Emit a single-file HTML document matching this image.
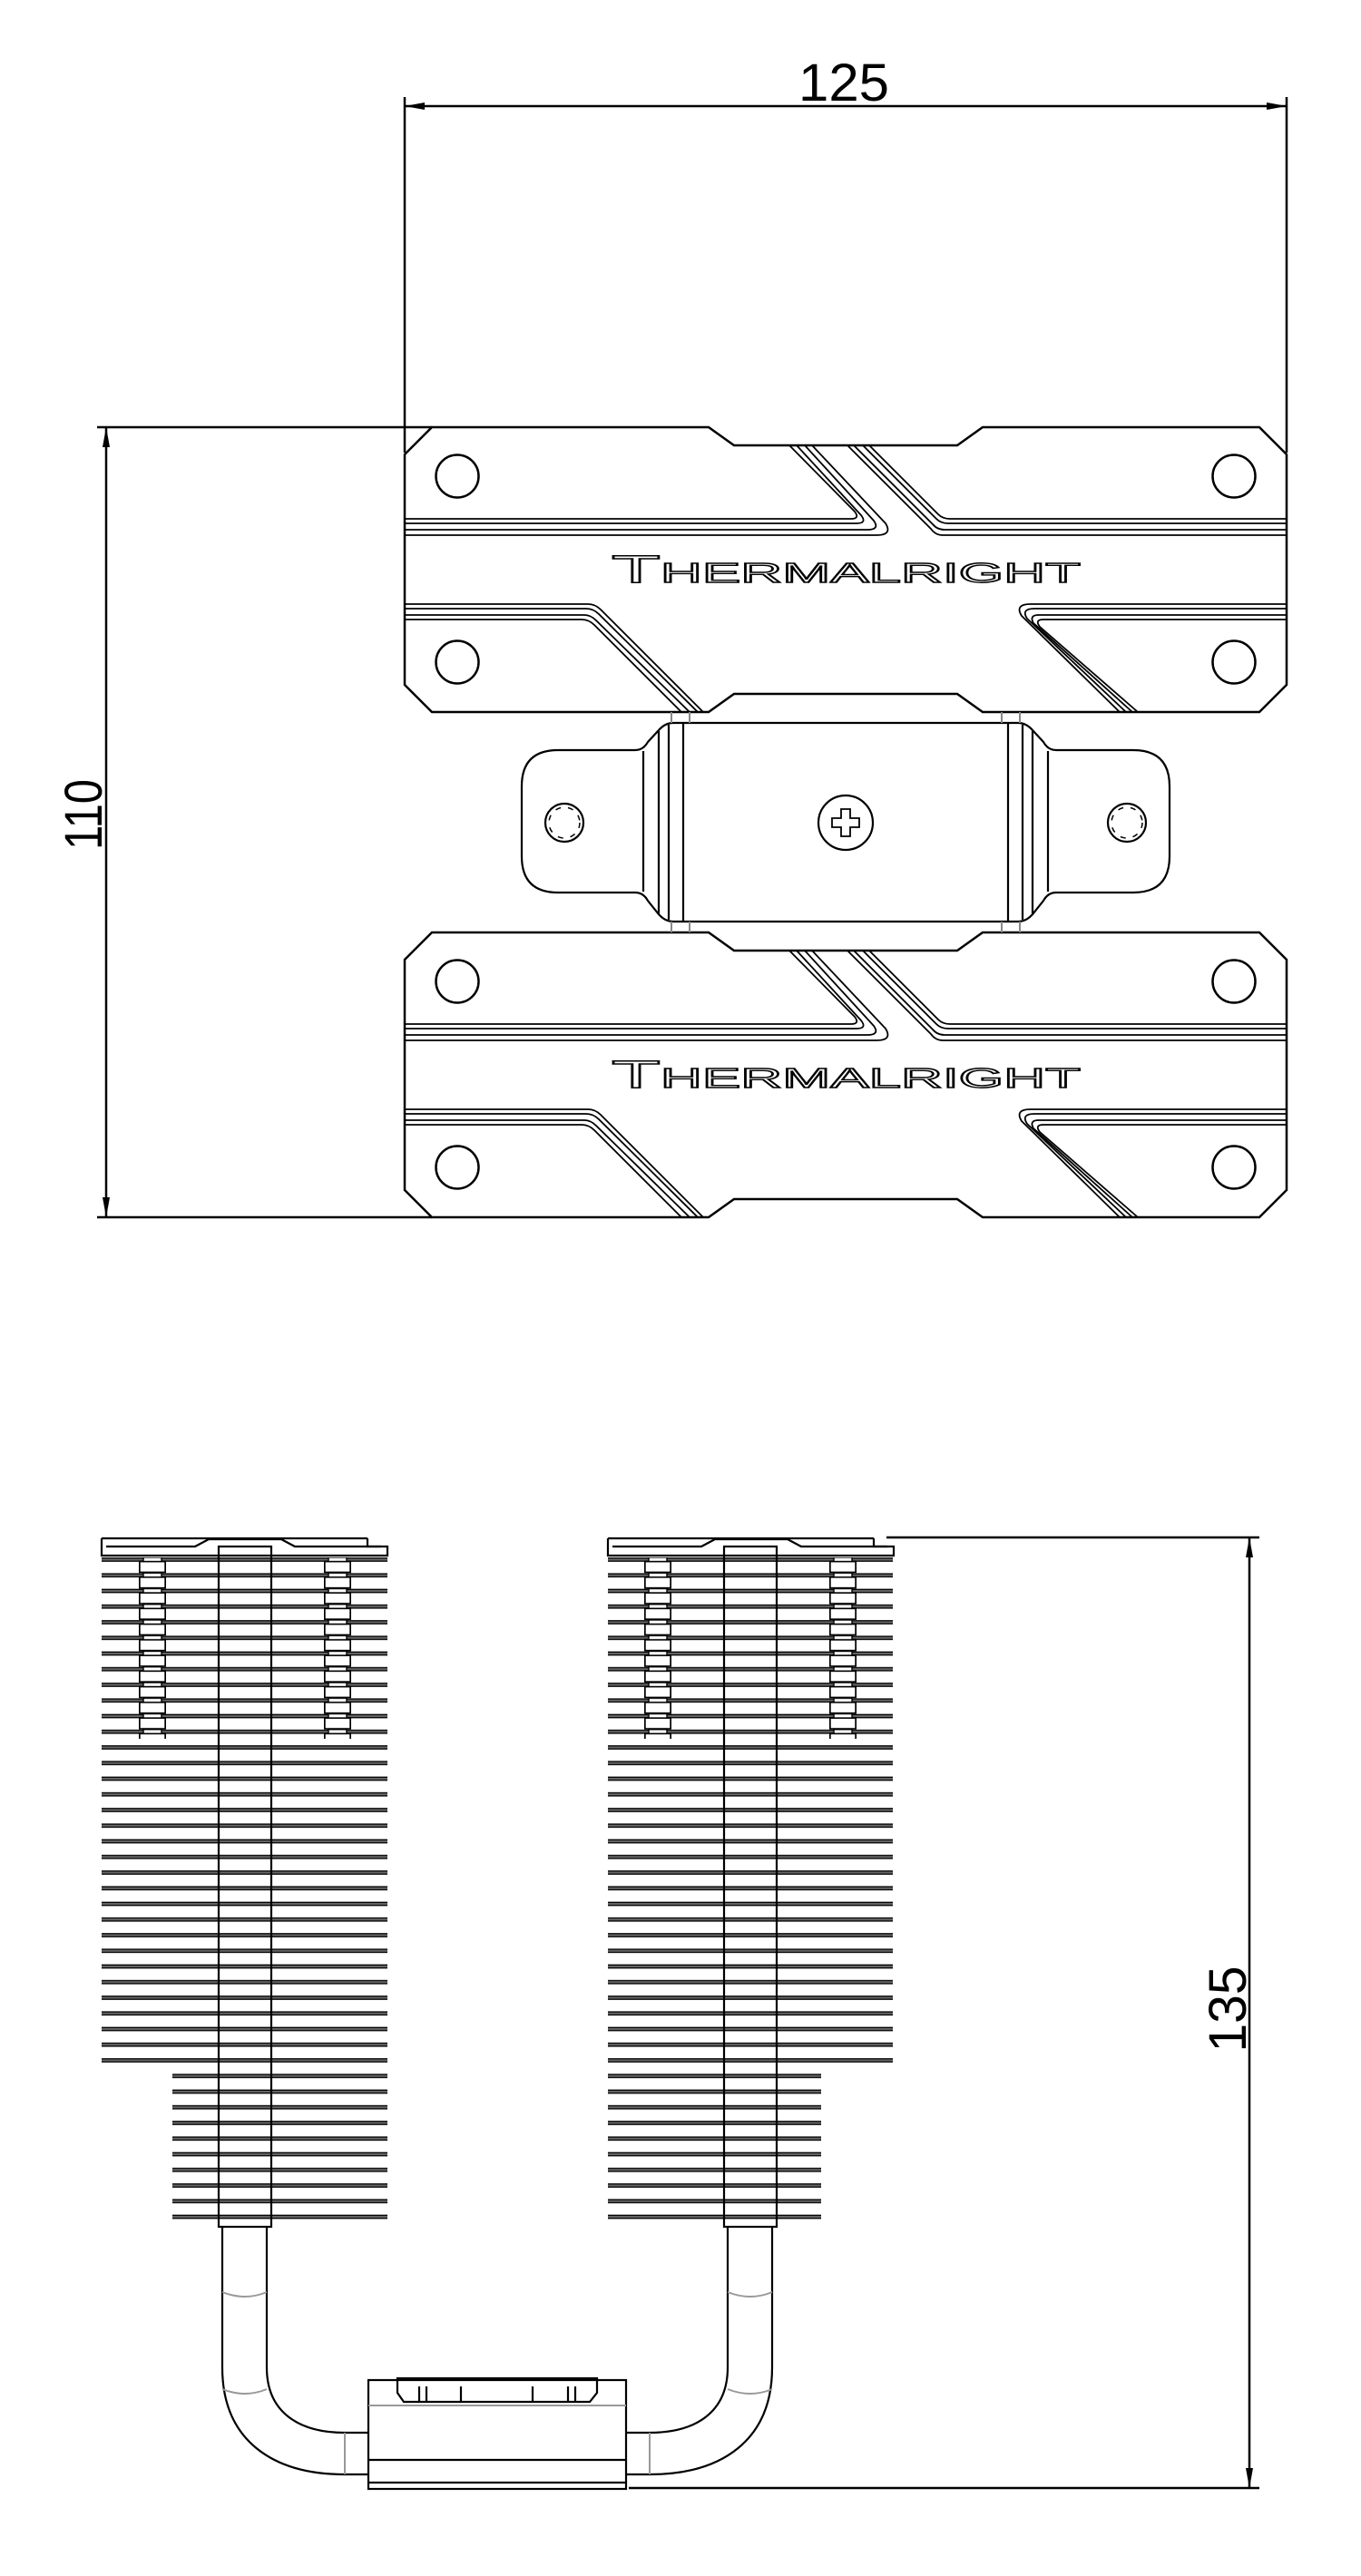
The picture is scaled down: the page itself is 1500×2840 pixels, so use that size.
<!DOCTYPE html>
<html><head><meta charset="utf-8"><style>html,body{margin:0;padding:0;background:#fff}svg{display:block}</style></head>
<body>
<svg xmlns="http://www.w3.org/2000/svg" width="1500" height="2840" viewBox="0 0 1500 2840">
<defs>
<g id="plate" fill="none" stroke="#000">
<path stroke-width="2.5" d="M0,30 L30,0 H335 L363,20 H609 L637,0 H942 L972,30 V284 L942,314 H637 L609,294 H363 L335,314 H30 L0,284 Z"/>
<g stroke-width="2.5"><circle cx="58" cy="54" r="23.5"/><circle cx="914" cy="54" r="23.5"/><circle cx="58" cy="259" r="23.5"/><circle cx="914" cy="259" r="23.5"/></g>
<g stroke-width="1.8" stroke-linejoin="round">
<path d="M0,101 H492 Q502,101 496,93 L424,20"/>
<path d="M0,106 H498 Q510,106 503,97 L432,20"/>
<path d="M0,113 H510 Q524,113 517,103 L441,20"/>
<path d="M0,119 H520 Q538,119 530,106 L449,20"/>
<path d="M0,195 H202 Q210,195 216,201 L329,314"/>
<path d="M0,200 H200 Q208,200 214,206 L323,314"/>
<path d="M0,207 H198 Q205,207 211,213 L314,314"/>
<path d="M0,212 H195 Q203,212 209,218 L305,314"/>
<path d="M512,20 L588,96 Q593,101 601,101 H972"/>
<path d="M505,20 L586,101 Q591,106 599,106 H972"/>
<path d="M495,20 L582,107 Q587,113 595,113 H972"/>
<path d="M488,20 L580,112 Q585,119 593,119 H972"/>
<path d="M972,195 H690 Q672,195 680,208 L788,314"/>
<path d="M972,200 H694 Q679,200 686,211 L795,314"/>
<path d="M972,207 H699 Q688,207 693,216 L802,314"/>
<path d="M972,212 H704 Q694,212 700,220 L808,314"/>
</g>
</g>
<pattern id="fins" patternUnits="userSpaceOnUse" x="0" y="1717" width="2000" height="17.25">
<rect x="-5" y="0.8" width="2010" height="3.4" fill="#666" stroke="#000" stroke-width="1.3"/>
</pattern>
<pattern id="pil" patternUnits="userSpaceOnUse" x="0" y="1717" width="30" height="17.25">
<rect x="0.8" y="4.5" width="28.4" height="12" fill="#fff" stroke="#000" stroke-width="1.8"/>
<rect x="5" y="0" width="20" height="4.5" fill="#fff" stroke="#000" stroke-width="1.4"/>
</pattern>
</defs>

<g stroke="#000" stroke-width="2.5" fill="none">
<line x1="446" y1="107" x2="446" y2="499"/>
<line x1="1418" y1="107" x2="1418" y2="499"/>
<line x1="446" y1="117" x2="1418" y2="117"/>
<line x1="107" y1="471" x2="476" y2="471"/>
<line x1="107" y1="1342" x2="476" y2="1342"/>
<line x1="117" y1="471" x2="117" y2="1342"/>
<line x1="977" y1="1695" x2="1388" y2="1695"/>
<line x1="693" y1="2743" x2="1388" y2="2743"/>
<line x1="1377" y1="1695" x2="1377" y2="2743"/>
</g>
<g fill="#000">
<path d="M446,117 L468,113 L468,121 Z"/><path d="M1418,117 L1396,113 L1396,121 Z"/>
<path d="M117,471 L113,493 L121,493 Z"/><path d="M117,1342 L113,1320 L121,1320 Z"/>
<path d="M1377,1695 L1373,1717 L1381,1717 Z"/><path d="M1377,2743 L1373,2721 L1381,2721 Z"/>
</g>
<g font-family="'Liberation Sans',sans-serif" font-size="58" fill="#000">
<text x="930" y="111" text-anchor="middle" textLength="100" lengthAdjust="spacingAndGlyphs">125</text>
<text transform="translate(112,898) rotate(-90)" text-anchor="middle" textLength="78" lengthAdjust="spacingAndGlyphs">110</text>
<text transform="translate(1373,2215) rotate(-90)" text-anchor="middle" textLength="95" lengthAdjust="spacingAndGlyphs">135</text>
</g>

<g transform="translate(446,471)"><use href="#plate"/>
<text x="228" y="171" fill="#fff" stroke="#000" stroke-width="1.4" font-family="'Liberation Sans',sans-serif" font-size="31" textLength="517" lengthAdjust="spacingAndGlyphs"><tspan font-size="43">T</tspan>HERMALRIGHT</text></g>
<g transform="translate(446,1028)"><use href="#plate"/>
<text x="228" y="171" fill="#fff" stroke="#000" stroke-width="1.4" font-family="'Liberation Sans',sans-serif" font-size="31" textLength="517" lengthAdjust="spacingAndGlyphs"><tspan font-size="43">T</tspan>HERMALRIGHT</text></g>

<g fill="none" stroke="#000" stroke-width="2.2">
<path fill="#fff" d="M575,867 Q575,827 615,827 H700 Q709,827 714,818 L726,805 Q733,797 742,797 H1122 Q1131,797 1138,805 L1150,818 Q1155,827 1164,827 H1249 Q1289,827 1289,867 V944 Q1289,984 1249,984 H1164 Q1155,984 1150,993 L1138,1008 Q1131,1016 1122,1016 H742 Q733,1016 726,1008 L714,993 Q709,984 700,984 H615 Q575,984 575,944 Z"/>
<line x1="709" y1="828" x2="709" y2="983"/><line x1="726" y1="806" x2="726" y2="1007"/><line x1="737" y1="799" x2="737" y2="1014"/><line x1="753" y1="797" x2="753" y2="1016"/>
<line x1="1155" y1="828" x2="1155" y2="983"/><line x1="1138" y1="806" x2="1138" y2="1007"/><line x1="1127" y1="799" x2="1127" y2="1014"/><line x1="1111" y1="797" x2="1111" y2="1016"/>
<circle cx="932" cy="907" r="30"/>
<path stroke-width="1.8" d="M927,892 H937 V902 H947 V912 H937 V922 H927 V912 H917 V902 H927 Z"/>
<circle cx="622" cy="907" r="21"/><circle cx="1242" cy="907" r="21"/>
<circle cx="622" cy="907" r="17" stroke-width="1.5" stroke-dasharray="6 8"/><circle cx="1242" cy="907" r="17" stroke-width="1.5" stroke-dasharray="6 8"/>
</g>
<g stroke="#888" stroke-width="2">
<line x1="740" y1="785" x2="740" y2="797"/><line x1="760" y1="785" x2="760" y2="797"/><line x1="1104" y1="785" x2="1104" y2="797"/><line x1="1124" y1="785" x2="1124" y2="797"/>
<line x1="740" y1="1016" x2="740" y2="1028"/><line x1="760" y1="1016" x2="760" y2="1028"/><line x1="1104" y1="1016" x2="1104" y2="1028"/><line x1="1124" y1="1016" x2="1124" y2="1028"/>
</g>

<rect x="112" y="1717" width="315" height="569" fill="url(#fins)"/>
<rect x="190" y="2286" width="237" height="163" fill="url(#fins)"/>
<rect x="670" y="1717" width="314" height="569" fill="url(#fins)"/>
<rect x="670" y="2286" width="235" height="163" fill="url(#fins)"/>
<g transform="translate(153,0)"><rect x="0" y="1717" width="30" height="200" fill="url(#pil)"/></g>
<g transform="translate(357,0)"><rect x="0" y="1717" width="30" height="200" fill="url(#pil)"/></g>
<g transform="translate(710,0)"><rect x="0" y="1717" width="30" height="200" fill="url(#pil)"/></g>
<g transform="translate(914,0)"><rect x="0" y="1717" width="30" height="200" fill="url(#pil)"/></g>
<g fill="none" stroke="#000" stroke-width="2.2">
<rect x="241" y="1705" width="58" height="750"/>
<rect x="798" y="1705" width="58" height="750"/>
<path d="M112,1696 H405 M112,1696 V1715 H427 V1705 H405 V1696"/>
<path d="M117,1705 H215 L230,1697 H310 L325,1705 H420"/>
<path d="M670,1696 H963 M670,1696 V1715 H985 V1705 H963 V1696"/>
<path d="M675,1705 H773 L788,1697 H868 L883,1705 H978"/>
<path d="M245,2455 V2610 C245,2690 300,2728 380,2728 H406"/>
<path d="M294,2455 V2610 C294,2660 330,2682 380,2682 H406"/>
<path d="M851,2455 V2610 C851,2690 796,2728 716,2728 H690"/>
<path d="M802,2455 V2610 C802,2660 766,2682 716,2682 H690"/>
<rect x="406" y="2624" width="284" height="120"/>
<line x1="406" y1="2712" x2="690" y2="2712"/>
<line x1="406" y1="2737" x2="690" y2="2737"/>
<path d="M438,2622 H658 V2638 L650,2648 H445 L438,2638 Z"/>
<line x1="462" y1="2631" x2="462" y2="2648"/><line x1="470" y1="2631" x2="470" y2="2648"/>
<line x1="508" y1="2631" x2="508" y2="2648"/><line x1="587" y1="2631" x2="587" y2="2648"/>
<line x1="626" y1="2631" x2="626" y2="2648"/><line x1="634" y1="2631" x2="634" y2="2648"/>
</g>
<g fill="none" stroke="#999" stroke-width="2">
<path d="M245,2527 Q270,2537 294,2527"/><path d="M245,2634 Q270,2644 294,2634"/>
<path d="M802,2527 Q827,2537 851,2527"/><path d="M802,2634 Q827,2644 851,2634"/>
<line x1="380" y1="2682" x2="380" y2="2728"/><line x1="716" y1="2682" x2="716" y2="2728"/>
<line x1="406" y1="2652" x2="690" y2="2652"/>
</g>
</svg>
</body></html>
